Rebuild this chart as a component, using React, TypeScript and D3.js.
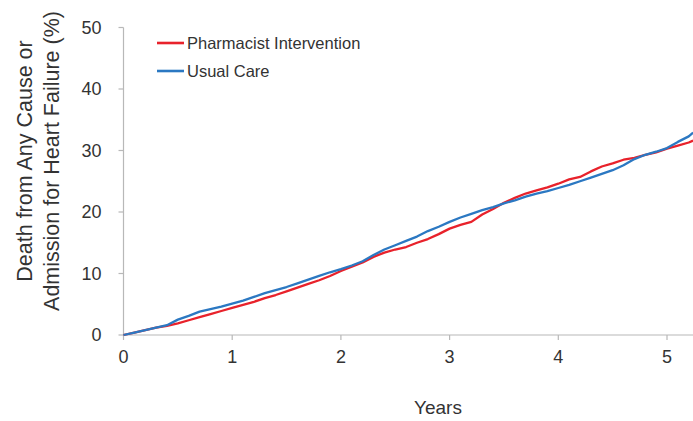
import React from "react";
import * as d3 from "d3";

const years = [0,0.1,0.2,0.3,0.4,0.5,0.6,0.7,0.8,0.9,1.0,1.1,1.2,1.3,1.4,1.5,1.6,1.7,1.8,1.9,2.0,2.1,2.2,2.3,2.4,2.5,2.6,2.7,2.8,2.9,3.0,3.1,3.2,3.3,3.4,3.5,3.6,3.7,3.8,3.9,4.0,4.1,4.2,4.3,4.4,4.5,4.6,4.7,4.8,4.9,5.0,5.1,5.2,5.24];
const pharmacist = [0,0.4,0.8,1.2,1.5,1.9,2.4,2.9,3.4,3.9,4.4,4.9,5.4,6.0,6.5,7.1,7.7,8.3,8.9,9.6,10.4,11.1,11.8,12.7,13.4,13.9,14.3,15.0,15.6,16.4,17.3,17.9,18.4,19.6,20.5,21.5,22.3,23.0,23.5,24.0,24.6,25.3,25.7,26.6,27.4,27.9,28.5,28.8,29.3,29.7,30.3,30.8,31.3,31.6];
const usual = [0,0.4,0.8,1.2,1.6,2.5,3.1,3.8,4.2,4.6,5.1,5.6,6.2,6.8,7.3,7.8,8.4,9.0,9.6,10.2,10.7,11.3,12.0,13.0,13.9,14.6,15.3,16.0,16.9,17.6,18.4,19.1,19.7,20.3,20.8,21.4,21.9,22.5,23.0,23.4,23.9,24.4,25.0,25.6,26.2,26.8,27.6,28.6,29.3,29.8,30.4,31.4,32.3,32.9];
const xTicks = [0,1,2,3,4,5];
const yTicks = [0,10,20,30,40,50];
const seriesNames = ["Pharmacist Intervention", "Usual Care"];
const seriesColors = ["#e8222b", "#2b78c2"];

export default function App() {
  const W = 693, H = 421;
  const x = d3.scaleLinear().domain([0, 5]).range([123.5, 667]);
  const y = d3.scaleLinear().domain([0, 50]).range([335, 27.5]);
  const line = d3.line<number>().x((_, i) => x(years[i])).y((d) => y(d));
  const series = [pharmacist, usual];
  const font = "Arial, 'Liberation Sans', sans-serif";
  return (
    <svg width={W} height={H} style={{ position: "absolute", left: 0, top: 0, background: "#fff" }} fontFamily={font}>
      <rect width={W} height={H} fill="#fff" />
      {/* axes */}
      <line x1={x(0)} x2={x(0)} y1={y(50)} y2={y(0)} stroke="#b8b8b8" strokeWidth={1.2} />
      <line x1={x(0)} x2={W} y1={y(0)} y2={y(0)} stroke="#b8b8b8" strokeWidth={1.2} />
      {yTicks.map((t) => (
        <g key={"y" + t}>
          <line x1={x(0) - 5} x2={x(0)} y1={y(t)} y2={y(t)} stroke="#b8b8b8" strokeWidth={1.2} />
          <text x={x(0) - 22} y={y(t)} dy="0.35em" textAnchor="end" fontSize={18} fill="#333">{t}</text>
        </g>
      ))}
      {xTicks.map((t) => (
        <g key={"x" + t}>
          <line x1={x(t)} x2={x(t)} y1={y(0)} y2={y(0) + 5} stroke="#b8b8b8" strokeWidth={1.2} />
          <text x={x(t)} y={y(0) + 28} textAnchor="middle" fontSize={18} fill="#333">{t}</text>
        </g>
      ))}
      <text x={438} y={414} textAnchor="middle" fontSize={19} fill="#333">Years</text>
      <g transform="translate(32,161) rotate(-90)">
        <text x={0} y={0} textAnchor="middle" fontSize={21.5} fill="#333">Death from Any Cause or</text>
        <text x={0} y={26.5} textAnchor="middle" fontSize={21.5} fill="#333">Admission for Heart Failure (%)</text>
      </g>
      {/* lines */}
      <g>
        {series.map((s, i) => (
          <path key={i} d={line(s) || ""} fill="none" stroke={seriesColors[i]} strokeWidth={2.3} strokeLinejoin="round" />
        ))}
      </g>
      {/* legend */}
      {seriesNames.map((n, i) => (
        <g key={n} transform={`translate(157,${43 + i * 28})`}>
          <line x1={0} x2={27} y1={0} y2={0} stroke={seriesColors[i]} strokeWidth={2.6} />
          <text x={30} y={0} dy="0.35em" fontSize={16.5} fill="#333">{n}</text>
        </g>
      ))}
    </svg>
  );
}
